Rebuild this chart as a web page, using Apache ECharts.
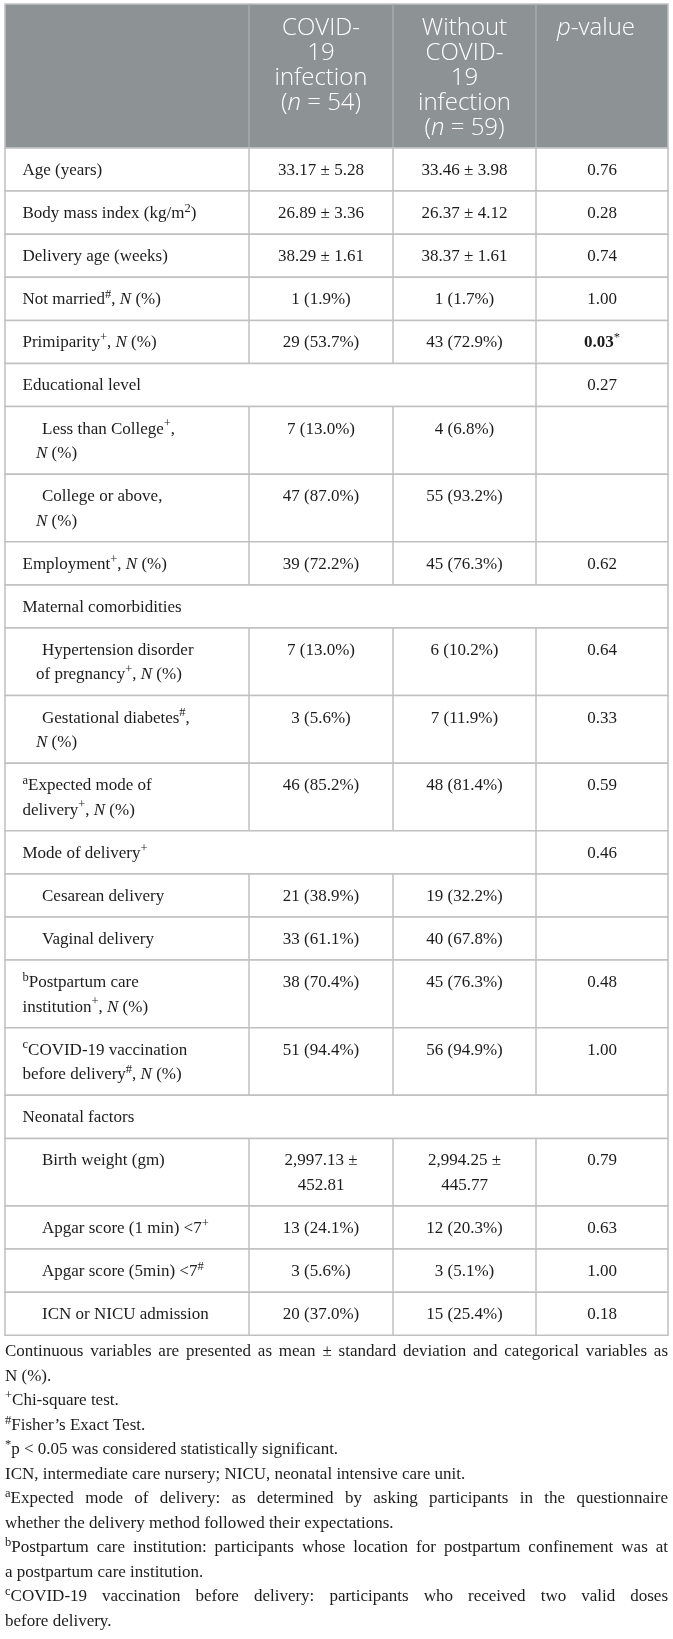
<!DOCTYPE html>
<html lang="en">
<head>
<meta charset="UTF-8">
<title>Characteristics by COVID-19 infection</title>
<script src="https://cdn.jsdelivr.net/npm/echarts@6/dist/echarts.min.js"></script>
<style>
  html, body { margin: 0; padding: 0; background: #fff; }
  #main { width: 673px; height: 1639px; }
</style>
</head>
<body>
<div id="main"></div>
<script>
// header cells (first column header is blank)
var headCovid = ['COVID-', '19', 'infection', '({i|n} = 54)'];
var headNoCovid = ['Without', 'COVID-', '19', 'infection', '({i|n} = 59)'];
var headP = ['{i|p}-value'];

// table body, one entry per row; null = empty / spanned cell
var rowLabels = [
  'Age (years)',
  'Body mass index (kg/m{sup|2})',
  'Delivery age (weeks)',
  'Not married{sup|#}, {i|N} (%)',
  'Primiparity{sup|+}, {i|N} (%)',
  'Educational level',
  'Less than College{sup|+},\n{i|N} (%)',
  'College or above,\n{i|N} (%)',
  'Employment{sup|+}, {i|N} (%)',
  'Maternal comorbidities',
  'Hypertension disorder\nof pregnancy{sup|+}, {i|N} (%)',
  'Gestational diabetes{sup|#},\n{i|N} (%)',
  '{sup|a}Expected mode of\ndelivery{sup|+}, {i|N} (%)',
  'Mode of delivery{sup|+}',
  'Cesarean delivery',
  'Vaginal delivery',
  '{sup|b}Postpartum care\ninstitution{sup|+}, {i|N} (%)',
  '{sup|c}COVID-19 vaccination\nbefore delivery{sup|#}, {i|N} (%)',
  'Neonatal factors',
  'Birth weight (gm)',
  'Apgar score (1 min) <7{sup|+}',
  'Apgar score (5min) <7{sup|#}',
  'ICN or NICU admission'
];
var rowIndent = [0, 0, 0, 0, 0, 0, 1, 1, 0, 0, 1, 1, 0, 0, 1, 1, 0, 0, 0, 1, 1, 1, 1];
var covidValues = [
  '33.17 ± 5.28', '26.89 ± 3.36', '38.29 ± 1.61', '1 (1.9%)', '29 (53.7%)', null,
  '7 (13.0%)', '47 (87.0%)', '39 (72.2%)', null, '7 (13.0%)', '3 (5.6%)', '46 (85.2%)',
  null, '21 (38.9%)', '33 (61.1%)', '38 (70.4%)', '51 (94.4%)', null,
  '2,997.13 ±\n452.81', '13 (24.1%)', '3 (5.6%)', '20 (37.0%)'
];
var noCovidValues = [
  '33.46 ± 3.98', '26.37 ± 4.12', '38.37 ± 1.61', '1 (1.7%)', '43 (72.9%)', null,
  '4 (6.8%)', '55 (93.2%)', '45 (76.3%)', null, '6 (10.2%)', '7 (11.9%)', '48 (81.4%)',
  null, '19 (32.2%)', '40 (67.8%)', '45 (76.3%)', '56 (94.9%)', null,
  '2,994.25 ±\n445.77', '12 (20.3%)', '3 (5.1%)', '15 (25.4%)'
];
var pValues = [
  '0.76', '0.28', '0.74', '1.00', '{b|0.03}{sup|*}', '0.27',
  null, null, '0.62', null, '0.64', '0.33', '0.59',
  '0.46', null, null, '0.48', '1.00', null,
  '0.79', '0.63', '1.00', '0.18'
];

// footnote paragraphs, \n where the printed line breaks
var footnotes = [
  'Continuous variables are presented as mean ± standard deviation and categorical variables as\nN (%).',
  '{sup|+}Chi-square test.',
  '{sup|#}Fisher’s Exact Test.',
  '{sup|*}p < 0.05 was considered statistically significant.',
  'ICN, intermediate care nursery; NICU, neonatal intensive care unit.',
  '{sup|a}Expected mode of delivery: as determined by asking participants in the questionnaire\nwhether the delivery method followed their expectations.',
  '{sup|b}Postpartum care institution: participants whose location for postpartum confinement was at\na postpartum care institution.',
  '{sup|c}COVID-19 vaccination before delivery: participants who received two valid doses\nbefore delivery.'
];

// ---- layout ----
var W = 673, H = 1639;
var colEdges = [5, 249, 393, 536, 668];
var tableTop = 4, headerBottom = 148;
var lineH = 24.5, rowPad = 18.6, firstLine = 22.5;
var headLine1 = 28, headLineH = 25;
var GRID = '#c0c0c0', HEAD_BG = '#8d9394', TEXT = '#1c1c1c';
var SERIF = '"Liberation Serif", "Times New Roman", serif';
var SANS = '"Open Sans", "Noto Sans", sans-serif';
var FS = 17;

var bodyRich = {
  i: { fontFamily: SERIF, fontSize: FS, fontStyle: 'italic', fill: TEXT, lineHeight: 23 },
  b: { fontFamily: SERIF, fontSize: FS, fontWeight: 'bold', fill: TEXT, lineHeight: 23 },
  sup: { fontFamily: SERIF, fontSize: 12.5, fill: TEXT, lineHeight: 10, verticalAlign: 'top' }
};
var headRich = {
  i: { fontFamily: SANS, fontSize: 24, fontStyle: 'italic', fontWeight: 300, fill: '#fff', lineHeight: 25 }
};

function nLines(s) { return s == null ? 0 : s.split('\n').length; }
var rowTops = [], rowHeights = [];
var yy = headerBottom;
rowLabels.forEach(function (lab, i) {
  var n = Math.max(nLines(lab), nLines(covidValues[i]), nLines(noCovidValues[i]), nLines(pValues[i]));
  rowTops.push(yy);
  rowHeights.push(rowPad + lineH * n);
  yy += rowPad + lineH * n;
});
var tableBottom = yy;
var footFirst = tableBottom + 16.5;

var footLines = [];
footnotes.forEach(function (para) {
  var parts = para.split('\n');
  parts.forEach(function (t, k) { footLines.push({ text: t, justify: k < parts.length - 1 }); });
});

var ctx = document.createElement('canvas').getContext('2d');
function fontOf(st) {
  return (st.fontStyle || 'normal') + ' ' + (st.fontWeight || 'normal') + ' ' + st.fontSize + 'px ' + st.fontFamily;
}
function measure(s) {
  var w = 0;
  s.replace(/\{(\w+)\|([^}]*)\}|([^{]+)/g, function (m, tag, inner, plain) {
    if (tag) { ctx.font = fontOf(bodyRich[tag]); w += ctx.measureText(inner).width; }
    else { ctx.font = fontOf({ fontSize: FS, fontFamily: SERIF }); w += ctx.measureText(plain).width; }
    return m;
  });
  return w;
}

function bodyText(x, y, s, align) {
  return {
    type: 'text',
    style: {
      x: x, y: y, text: s, fontFamily: SERIF, fontSize: FS, fill: TEXT, lineHeight: 23,
      align: align, verticalAlign: 'middle', rich: bodyRich
    }
  };
}
function headText(x, y, s) {
  return {
    type: 'text',
    style: {
      x: x, y: y, text: s, fontFamily: SANS, fontSize: 24, fontWeight: 300, fill: '#fff', lineHeight: 25,
      align: 'center', verticalAlign: 'middle', rich: headRich
    }
  };
}

function renderHeader(params, api) {
  var a = api.coord([colEdges[0], tableTop]);
  var b = api.coord([colEdges[4], headerBottom]);
  var kids = [{
    type: 'rect',
    shape: { x: a[0], y: a[1], width: b[0] - a[0], height: b[1] - a[1] },
    style: { fill: HEAD_BG, stroke: GRID, lineWidth: 1.5 }
  }];
  [1, 2, 3].forEach(function (c) {
    var x = api.coord([colEdges[c], 0])[0];
    kids.push({ type: 'line', shape: { x1: x, y1: a[1], x2: x, y2: b[1] }, style: { stroke: '#adb1b2', lineWidth: 1.2 } });
  });
  [headCovid, headNoCovid, headP].forEach(function (lines, c) {
    var cx = (colEdges[c + 1] + colEdges[c + 2]) / 2 - (c === 2 ? 6 : 0);
    lines.forEach(function (t, k) {
      var p = api.coord([cx, headLine1 + k * headLineH]);
      kids.push(headText(p[0], p[1], t));
    });
  });
  return { type: 'group', children: kids };
}

function renderRow(params, api) {
  var i = params.dataIndex;
  var a = api.coord([colEdges[0], rowTops[i]]);
  var b = api.coord([colEdges[4], rowTops[i] + rowHeights[i]]);
  var kids = [{
    type: 'rect',
    shape: { x: a[0], y: a[1], width: b[0] - a[0], height: b[1] - a[1] },
    style: { fill: '#fff', stroke: GRID, lineWidth: 1.5 }
  }];
  var full = covidValues[i] == null && pValues[i] == null;
  var wide = covidValues[i] == null && pValues[i] != null;
  (full ? [] : wide ? [3] : [1, 2, 3]).forEach(function (c) {
    var x = api.coord([colEdges[c], 0])[0];
    kids.push({ type: 'line', shape: { x1: x, y1: a[1], x2: x, y2: b[1] }, style: { stroke: GRID, lineWidth: 1.5 } });
  });
  rowLabels[i].split('\n').forEach(function (t, k) {
    var x = colEdges[0] + (rowIndent[i] ? (k === 0 ? 37 : 31) : 17.5);
    var p = api.coord([x, rowTops[i] + firstLine + k * lineH]);
    kids.push(bodyText(p[0], p[1], t, 'left'));
  });
  [covidValues[i], noCovidValues[i], pValues[i]].forEach(function (v, c) {
    if (v == null) return;
    var cx = (colEdges[c + 1] + colEdges[c + 2]) / 2;
    v.split('\n').forEach(function (t, k) {
      var p = api.coord([cx, rowTops[i] + firstLine + k * lineH]);
      kids.push(bodyText(p[0], p[1], t, 'center'));
    });
  });
  return { type: 'group', children: kids };
}

function renderFoot(params, api) {
  var f = footLines[params.dataIndex];
  var y = footFirst + params.dataIndex * lineH;
  var left = colEdges[0], right = colEdges[4];
  var kids = [];
  if (!f.justify) {
    var p = api.coord([left, y]);
    kids.push(bodyText(p[0], p[1], f.text, 'left'));
    return { type: 'group', children: kids };
  }
  // justified line: spread the words over the full width
  var words = f.text.split(' ');
  var widths = words.map(measure);
  var total = widths.reduce(function (s, w) { return s + w; }, 0);
  var gap = (right - left - total) / (words.length - 1);
  var sx = 1, minGap = 3;
  if (gap < minGap) {
    sx = (right - left) / (total + minGap * (words.length - 1));
    gap = minGap;
  }
  var x = 0;
  var o = api.coord([left, y]);
  words.forEach(function (w, k) {
    kids.push(bodyText(x, 0, w, 'left'));
    x += widths[k] + gap;
  });
  return { type: 'group', x: o[0], y: o[1], scaleX: sx, children: kids };
}

var chart = echarts.init(document.getElementById('main'), null, { renderer: 'canvas' });
chart.setOption({
  animation: false,
  backgroundColor: '#fff',
  grid: { left: 0, right: 0, top: 0, bottom: 0 },
  xAxis: { type: 'value', min: 0, max: W, show: false },
  yAxis: { type: 'value', min: 0, max: H, inverse: true, show: false },
  series: [
    { type: 'custom', name: 'header', renderItem: renderHeader, data: [[colEdges[0], tableTop]], clip: false },
    {
      type: 'custom', name: 'rows', renderItem: renderRow, clip: false,
      data: rowLabels.map(function (l, i) { return [colEdges[0], rowTops[i]]; })
    },
    {
      type: 'custom', name: 'notes', renderItem: renderFoot, clip: false,
      data: footLines.map(function (f, i) { return [colEdges[0], footFirst + i * lineH]; })
    }
  ]
});
</script>
</body>
</html>
